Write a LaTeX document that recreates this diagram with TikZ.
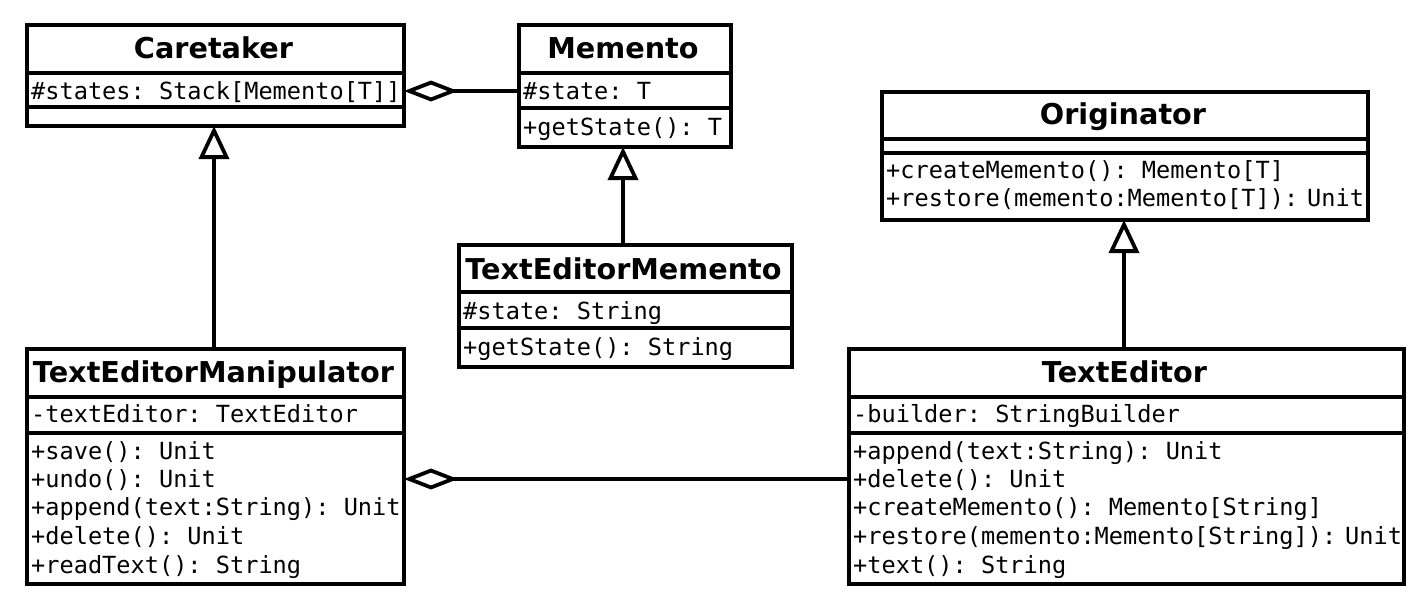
\documentclass[tikz,border=0pt]{standalone}
\usepackage{fontspec}
\setmainfont{DejaVu Sans}
\setmonofont{DejaVu Sans Mono}
\usetikzlibrary{arrows.meta}
\tikzset{
  box/.style={draw, line width=4pt, anchor=north west, inner sep=0pt, fill=white},
  sep/.style={line width=4pt},
  ttl/.style={font=\fontsize{28.7}{32}\selectfont\bfseries, inner sep=0pt, text height=21pt, text depth=0pt},
  mem/.style={font=\ttfamily\fontsize{23.6}{26}\selectfont, anchor=west, inner sep=0pt, text height=17pt, text depth=5pt},
  conn/.style={line width=4pt},
  inh/.style={conn, shorten >=-2pt, -{Triangle[open, length=33pt, width=30pt, line width=3.8pt]}},
  agg/.style={conn, shorten >=-2pt, -{Diamond[open, length=54pt, width=21pt, line width=3.8pt]}}
}
\begin{document}
\begin{tikzpicture}[x=1pt,y=-1pt]
\useasboundingbox (0,0) rectangle (1423,606);
% Caretaker
\node[box, minimum width=377pt, minimum height=101pt] (care) at (25,23) {};
\draw[sep] (25,73) -- (402,73);
\draw[sep] (25,107) -- (402,107);
\node[ttl] (careT) at (213.5,48) {Caretaker};
\node[mem] (careA) at (31,93) {\#states: Stack[Memento[T]]};
% Memento
\node[box, minimum width=212pt, minimum height=122pt] (memo) at (517,23) {};
\draw[sep] (517,73) -- (729,73);
\draw[sep] (517,108) -- (729,108);
\node[ttl] (memoT) at (623,48) {Memento};
\node[mem] (memoA) at (523,93) {\#state: T};
\node[mem] (memoO) at (523,129) {+getState(): T};
% TextEditorMemento
\node[box, minimum width=333pt, minimum height=122pt] (tem) at (457,243) {};
\draw[sep] (457,292) -- (790,292);
\draw[sep] (457,328) -- (790,328);
\node[ttl] (temT) at (623.5,269) {TextEditorMemento};
\node[mem] (temA) at (463,313) {\#state: String};
\node[mem] (temO) at (463,349) {+getState(): String};
% Originator
\node[box, minimum width=486pt, minimum height=128pt] (orig) at (880,90) {};
\draw[sep] (880,139) -- (1366,139);
\draw[sep] (880,153) -- (1366,153);
\node[ttl] (origT) at (1123,114) {Originator};
\node[mem] (origO1) at (886,172) {+createMemento(): Memento[T]};
\node[mem] (origO2) at (886,200) {+restore(memento:Memento[T]):\kern9pt Unit};
% TextEditorManipulator
\node[box, minimum width=377pt, minimum height=235pt] (tman) at (25,347) {};
\draw[sep] (25,397) -- (402,397);
\draw[sep] (25,433) -- (402,433);
\node[ttl] (tmanT) at (213.5,372) {TextEditorManipulator};
\node[mem] (tmanA) at (31,416) {-textEditor: TextEditor};
\node[mem] (tmanO1) at (31,453) {+save(): Unit};
\node[mem] (tmanO2) at (31,481) {+undo(): Unit};
\node[mem] (tmanO3) at (31,509) {+append(text:String): Unit};
\node[mem] (tmanO4) at (31,538) {+delete(): Unit};
\node[mem] (tmanO5) at (31,567) {+readText(): String};
% TextEditor
\node[box, minimum width=555pt, minimum height=235pt] (ted) at (847,347) {};
\draw[sep] (847,397) -- (1402,397);
\draw[sep] (847,433) -- (1402,433);
\node[ttl] (tedT) at (1124.5,372) {TextEditor};
\node[mem] (tedA) at (853,416) {-builder: StringBuilder};
\node[mem] (tedO1) at (853,453) {+append(text:String): Unit};
\node[mem] (tedO2) at (853,481) {+delete(): Unit};
\node[mem] (tedO3) at (853,509) {+createMemento(): Memento[String]};
\node[mem] (tedO4) at (853,538) {+restore(memento:Memento[String]):\kern9pt Unit};
\node[mem] (tedO5) at (853,567) {+text(): String};
% connectors
\draw[inh] (tman.north -| 214,0) -- (care.south -| 214,0);
\draw[inh] (tem.north -| 623,0) -- (memo.south -| 623,0);
\draw[inh] (ted.north -| 1124,0) -- (orig.south -| 1124,0);
\draw[agg] (memo.west |- 0,91) -- (care.east |- 0,91);
\draw[agg] (ted.west |- 0,479) -- (tman.east |- 0,479);
\end{tikzpicture}
\end{document}
